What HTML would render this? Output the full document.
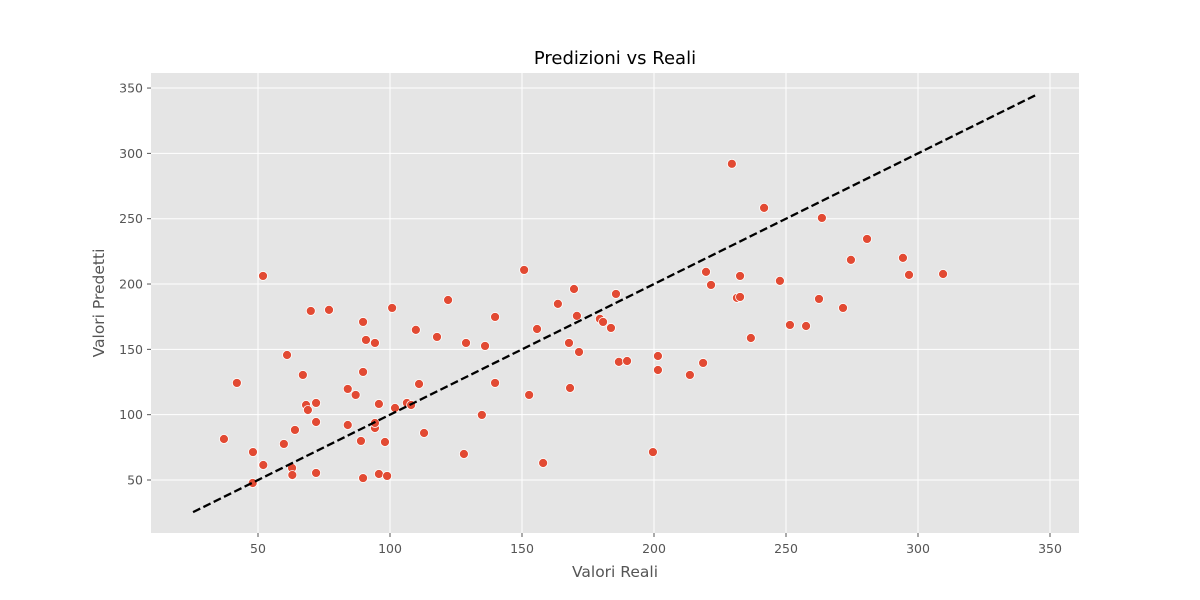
<!DOCTYPE html>
<html><head><meta charset="utf-8">
<style>
html,body{margin:0;padding:0;background:#fff;}
svg{display:block;font-family:"DejaVu Sans","Liberation Sans",sans-serif;}
</style></head>
<body>
<svg id="chart" width="1200" height="600">
  <rect x="151" y="73" width="928" height="460" fill="#e5e5e5"/>
  <g id="grid"></g>
  <g id="ticks"></g>
  <g id="marks"></g>
  <text x="615" y="64" text-anchor="middle" font-size="18" fill="#000">Predizioni vs Reali</text>
  <text x="615" y="577" text-anchor="middle" font-size="15.5" fill="#555">Valori Reali</text>
  <text x="104" y="303" text-anchor="middle" font-size="15.5" fill="#555" transform="rotate(-90 104 303)">Valori Predetti</text>
</svg>
<script>
const xTicks = [50,100,150,200,250,300,350];
const yTicks = [50,100,150,200,250,300,350];
const lineRange = [25.4, 345.4];
const xVals = [37.1,42,48.1,48,51.9,52,59.8,61,62.9,63,64,67,68.2,68.9,70,72,72,72,76.9,84,84,87,89,89.8,89.8,89.8,90.9,94.3,94.3,94.3,95.8,95.8,98.1,98.9,100.8,101.9,106.4,108,109.8,111,112.9,117.8,122,128,128.8,134.8,136,139.8,139.8,150.8,152.7,155.7,158,163.6,167.8,168.2,169.7,170.8,171.6,179.5,180.7,183.7,185.6,186.7,189.8,199.6,201.5,201.5,213.6,218.6,219.7,221.6,229.5,231.4,232.6,232.6,236.7,241.7,247.7,251.5,257.6,262.5,263.6,271.6,274.6,280.7,294.3,296.6,309.5];
const yVals = [81.4,124.3,71.4,47.7,206.2,61.5,77.6,145.7,59.2,53.8,88.3,130.4,107.4,103.6,179.4,109,94.4,55.4,180.2,119.7,92.1,115.1,79.9,171,132.7,51.5,157.2,154.9,89.8,93.6,108.2,54.6,79.1,53.1,181.7,105.1,109,107.4,164.9,123.5,86,159.5,187.8,69.9,154.9,99.8,152.6,174.8,124.3,210.8,115.1,165.6,63,184.8,154.9,120.4,196.2,175.6,148,173.3,171,166.4,192.4,140.4,141.1,71.4,144.9,134.2,130.4,139.6,209.3,199.3,292,189.4,206.2,190.1,158.7,258.3,202.4,168.7,167.9,188.6,250.6,181.7,218.5,234.5,220,207,207.7];

const NS="http://www.w3.org/2000/svg";
function X(v){return 258+(v-50)*2.64;}
function Y(v){return 480-(v-50)*1.3065;}
function mk(tag,attrs,parent){const e=document.createElementNS(NS,tag);for(const k in attrs)e.setAttribute(k,attrs[k]);parent.appendChild(e);return e;}
const grid=document.getElementById('grid'),ticks=document.getElementById('ticks'),marks=document.getElementById('marks');
xTicks.forEach(t=>{
  const l=mk('line',{x1:X(t),x2:X(t),y1:73,y2:533,stroke:'#fff','stroke-width':1},grid);
  
  
  mk('line',{x1:X(t),x2:X(t),y1:533,y2:537,stroke:'#555'},ticks);
  const tx=mk('text',{x:X(t),y:553,'text-anchor':'middle','font-size':12.5,fill:'#555'},ticks);
  tx.textContent=t;
  
  
});
yTicks.forEach(t=>{
  const l=mk('line',{x1:151,x2:1079,y1:Y(t),y2:Y(t),stroke:'#fff','stroke-width':1},grid);
  
  
  mk('line',{x1:147,x2:151,y1:Y(t),y2:Y(t),stroke:'#555'},ticks);
  const tx=mk('text',{x:143,y:Y(t)+4.5,'text-anchor':'end','font-size':12.5,fill:'#555'},ticks);
  tx.textContent=t;
  
  
});
xVals.forEach((v,i)=>{
  const c=mk('circle',{cx:X(v),cy:Y(yVals[i]),r:4.5,fill:'#E24A33',stroke:'#fff','stroke-width':0.8},marks);
  
  
});
const ln=mk('line',{x1:X(lineRange[0]),y1:Y(lineRange[0]),x2:X(lineRange[1]),y2:Y(lineRange[1]),stroke:'#000','stroke-width':2.3,'stroke-dasharray':'8,3.5'},marks);


</script>
</body></html>
